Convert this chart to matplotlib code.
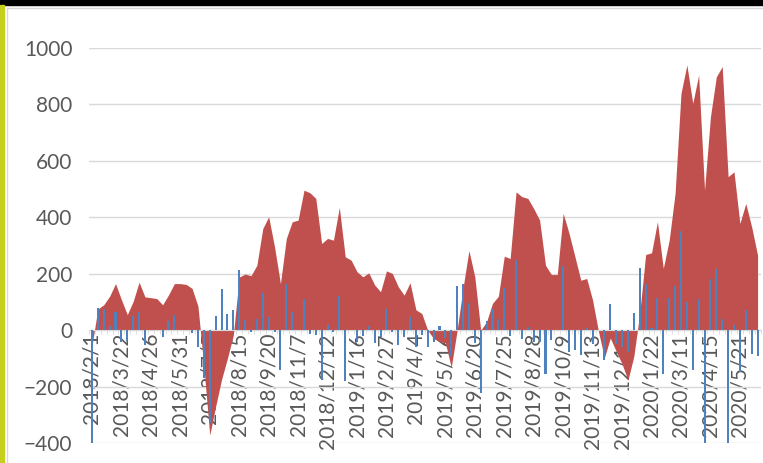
import matplotlib
matplotlib.use("Agg")
import matplotlib.pyplot as plt
from matplotlib.patches import Rectangle
from matplotlib.lines import Line2D
import numpy as np

# x tick labels, one every 5 weekly points
tick_dates = ["2018/2/1", "2018/3/22", "2018/4/26", "2018/5/31", "2018/7/5",
              "2018/8/15", "2018/9/20", "2018/11/7", "2018/12/12", "2019/1/16",
              "2019/2/27", "2019/4/4", "2019/5/16", "2019/6/20", "2019/7/25",
              "2019/8/28", "2019/10/9", "2019/11/13", "2019/12/18", "2020/1/22",
              "2020/3/11", "2020/4/15", "2020/5/21"]

# red area series
area_values = [-55, 75, 90, 120, 165, 108, 55, 102, 170, 118,
               115, 112, 90, 125, 165, 165, 162, 148, 85, -130,
               -372, -270, -175, -100, -18, 188, 199, 193, 230, 360,
               402, 295, 165, 325, 384, 390, 496, 487, 467, 307,
               325, 319, 435, 260, 248, 207, 189, 203, 160, 136,
               210, 201, 154, 124, 168, 72, 59, 0, -30, -40,
               -45, -132, 0, 150, 282, 189, 0, 30, 95, 120,
               262, 254, 490, 473, 467, 431, 390, 230, 197, 197,
               414, 343, 260, 177, 183, 106, -5, -98, -28, -75,
               -120, -177, -92, 60, 268, 274, 384, 219, 319, 485,
               839, 940, 804, 904, 496, 756, 898, 934, 544, 561,
               378, 449, 366, 266]

# blue bar series
bar_values = [-410, 80, 75, 16, 65, -42, -40, 50, 65, -52,
              0, 0, -25, 32, 55, 0, 0, -10, -60, -170,
              -330, 51, 146, 57, 70, 213, 35, -6, 40, 131,
              46, -8, -142, 164, 65, 0, 112, -12, -16, -175,
              18, -7, 120, -180, 0, -43, -19, 16, -47, -25,
              74, -8, -52, -26, 46, -60, -18, -59, -43, 13,
              -27, -90, 156, 165, 97, -45, -222, 31, 75, 39,
              150, -22, 248, -30, 10, -41, -41, -154, -35, 0,
              226, -77, -71, -89, 8, -50, 0, -106, 92, -48,
              -60, -77, 59, 219, 165, 6, 114, -155, 113, 155,
              352, 98, -142, 110, -410, 183, 215, 41, -410, 18,
              -150, 72, -83, -92]

W, H = 763, 463
fig = plt.figure(figsize=(W / 100, H / 100), dpi=100)

# frame decorations from the screenshot
fig.patches.append(Rectangle((0, 1 - 5 / H), 1, 5 / H, transform=fig.transFigure,
                             color="black", zorder=5))
fig.patches.append(Rectangle((0, 0), 4 / W, 1 - 5 / H, transform=fig.transFigure,
                             color="#C6D01C", zorder=5))
fig.lines.append(Line2D([7 / W, 7 / W], [0, 1 - 8 / H], transform=fig.transFigure,
                        color="#D9D9D9", lw=1))
fig.lines.append(Line2D([7 / W, 1], [1 - 8 / H, 1 - 8 / H], transform=fig.transFigure,
                        color="#D9D9D9", lw=1))

ax = fig.add_axes([89 / W, (H - 443) / H, 671.5 / W, 395 / H])

x = np.arange(len(area_values))
ax.fill_between(x, 0, area_values, color="#C0504D", lw=0, zorder=2)
ax.bar(x, bar_values, width=0.35, color="#4F81BD", zorder=3)

ax.set_xlim(-0.5, len(area_values) - 0.5)
ax.set_ylim(-400, 1000)
ax.set_yticks(range(-400, 1001, 200))
ax.grid(axis="y", color="#D9D9D9", lw=1)
ax.set_axisbelow(True)

for s in ["top", "right", "left"]:
    ax.spines[s].set_visible(False)
ax.spines["bottom"].set_position(("data", 0))
ax.spines["bottom"].set_color("#D9D9D9")

ax.set_xticks(x[::5][:len(tick_dates)])
ax.set_xticklabels(tick_dates, rotation=90)
ax.set_xticks(np.arange(len(area_values) + 1) - 0.5, minor=True)
ax.tick_params(axis="x", which="major", length=0, pad=2, labelsize=15,
               labelcolor="#595959")
ax.tick_params(axis="x", which="minor", length=3, color="#D9D9D9")
ax.tick_params(axis="y", length=0, pad=12, labelsize=15, labelcolor="#595959")
for lab in ax.get_xticklabels() + ax.get_yticklabels():
    lab.set_family(["Lato", "DejaVu Sans"])

fig.savefig("out.png", dpi=100)
